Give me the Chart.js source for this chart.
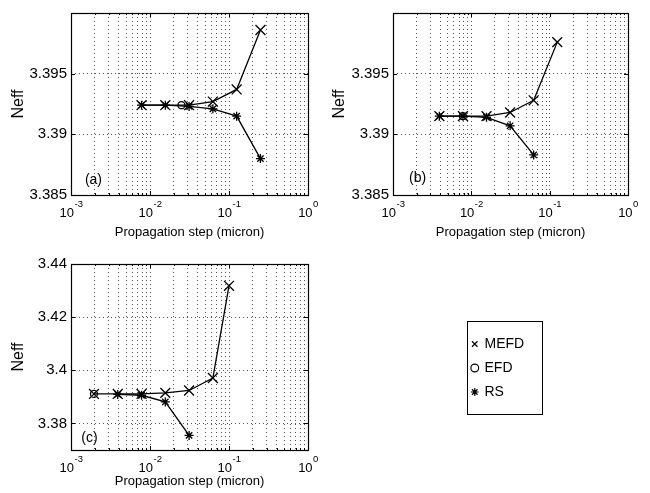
<!DOCTYPE html>
<html><head><meta charset="utf-8">
<script src="https://cdn.jsdelivr.net/npm/chart.js@4/dist/chart.umd.min.js"></script>
<style>
html,body{margin:0;padding:0;background:#fff;}
#wrap{position:relative;width:650px;height:493px;overflow:hidden;background:#fff;}
#wrap canvas{position:absolute;}
#legbox{position:absolute;left:467px;top:321px;width:76px;height:94px;border:1px solid #000;box-sizing:border-box;overflow:hidden;background:#fff;}
</style></head><body>
<div id="wrap">
<canvas id="ca" width="325" height="245" style="left:0;top:0"></canvas>
<canvas id="cb" width="325" height="245" style="left:325px;top:0"></canvas>
<canvas id="cc" width="325" height="248" style="left:0;top:245px"></canvas>
<div id="legbox"><canvas id="cl" width="82" height="92" style="left:-6px;top:0"></canvas></div>
</div>
<script>
// ---- data ----
const seriesNames = ['MEFD', 'EFD', 'RS'];
const xTitle = 'Propagation step (micron)';
const yTitle = 'Neff';
const xMajorTicks = [0.001, 0.01, 0.1, 1];
const yTicksAB = [3.385, 3.39, 3.395];
const yTicksC = [3.38, 3.4, 3.42, 3.44];
const panelLabels = ['(a)', '(b)', '(c)'];
const panelLabelX = [0.0015, 0.0016, 0.00135];
const panelLabelY = [3.3862, 3.3864, 3.3746];

// panel (a)
const stepsA = [0.0078125, 0.015625, 0.03125, 0.0625, 0.125, 0.25];
const mefdA = [3.3924, 3.3924, 3.3924, 3.3927, 3.3937, 3.3986];
const rsA = [3.3924, 3.3924, 3.3923, 3.3921, 3.3915, 3.3880];
const efdStepsA = [0.025];
const efdA = [3.3924];

// panel (b)
const stepsB = [0.00390625, 0.0078125, 0.015625, 0.03125, 0.0625, 0.125];
const mefdB = [3.3915, 3.3915, 3.3915, 3.3918, 3.3928, 3.3976];
const rsStepsB = [0.00390625, 0.0078125, 0.015625, 0.03125, 0.0625];
const rsB = [3.3915, 3.3915, 3.3914, 3.3907, 3.3883];
const efdStepsB = [0.0078125];
const efdB = [3.3915];

// panel (c)
const mefdStepsC = [0.001953125, 0.00390625, 0.0078125, 0.015625, 0.03125, 0.0625, 0.1];
const mefdC = [3.3911, 3.3911, 3.3911, 3.3915, 3.3924, 3.3971, 3.4318];
const rsStepsC = [0.00390625, 0.0078125, 0.015625, 0.03125];
const rsC = [3.3909, 3.3906, 3.3881, 3.3755];
const efdStepsC = [0.001953125];
const efdC = [3.3911];

// ---- rendering ----
const FAM = '"Liberation Sans", Arial, Helvetica, sans-serif';
Chart.defaults.font.family = FAM;
Chart.defaults.color = '#000';
const GRID = 'rgba(0,0,0,0.65)';

const xGridValues = [];
for (let e = -3; e < 0; e++) {
  for (let m = 1; m <= 9; m++) xGridValues.push(Number((m * Math.pow(10, e)).toPrecision(6)));
}
xGridValues.push(1);

const styles = {
  MEFD: {pointStyle: 'crossRot', pointRadius: 7},
  EFD: {pointStyle: 'circle', pointRadius: 3.5},
  RS: {pointStyle: 'star', pointRadius: 4.5}
};

function pts(xs, ys) { return xs.map((x, i) => ({x: x, y: ys[i]})); }
function ds(name, xs, ys) {
  return Object.assign({
    label: name, data: pts(xs, ys), showLine: true,
    borderColor: '#000', borderWidth: 1.3, backgroundColor: 'rgba(0,0,0,0)',
    pointBorderColor: '#000', pointBackgroundColor: 'rgba(0,0,0,0)',
    pointBorderWidth: 1.3, pointHoverRadius: 0, tension: 0, fill: false
  }, styles[name]);
}

const isMajor = v => xMajorTicks.some(m => Math.abs(Math.log10(m) - Math.log10(v)) < 1e-6);

const matlabPlugin = {
  id: 'matlab',
  afterDraw(chart, args, opts) {
    const {ctx, chartArea: a, scales} = chart;
    const x = scales.x, y = scales.y;
    ctx.save();
    ctx.strokeStyle = '#000';
    ctx.lineWidth = 1;
    ctx.setLineDash([]);
    ctx.beginPath();
    x.ticks.forEach(t => {
      const px = Math.round(x.getPixelForValue(t.value)) + 0.5;
      const L = isMajor(t.value) ? 4 : 2;
      ctx.moveTo(px, a.bottom); ctx.lineTo(px, a.bottom - L);
      ctx.moveTo(px, a.top); ctx.lineTo(px, a.top + L);
    });
    y.ticks.forEach(t => {
      const py = Math.round(y.getPixelForValue(t.value)) + 0.5;
      ctx.moveTo(a.left, py); ctx.lineTo(a.left + 4, py);
      ctx.moveTo(a.right, py); ctx.lineTo(a.right - 4, py);
    });
    ctx.stroke();
    ctx.lineWidth = 1.2;
    ctx.strokeRect(Math.round(a.left) + 0.5, Math.round(a.top) + 0.5,
                   Math.round(a.right - a.left), Math.round(a.bottom - a.top));
    // x tick labels 10^n
    ctx.fillStyle = '#000';
    ctx.textAlign = 'left';
    ctx.textBaseline = 'alphabetic';
    xMajorTicks.forEach(v => {
      const px = x.getPixelForValue(v);
      const e = String(Math.round(Math.log10(v)));
      ctx.font = '13px ' + FAM;
      const w1 = ctx.measureText('10').width;
      ctx.font = '9.5px ' + FAM;
      const w2 = ctx.measureText(e).width;
      const sx = px - (w1 + w2) / 2;
      ctx.font = '13px ' + FAM;
      ctx.fillText('10', sx, a.bottom + 22);
      ctx.font = '9.5px ' + FAM;
      ctx.fillText(e, sx + w1 + 0.5, a.bottom + 12);
    });
    // panel label
    const i = opts.idx;
    ctx.font = '14px ' + FAM;
    ctx.textBaseline = 'middle';
    ctx.fillText(panelLabels[i], x.getPixelForValue(panelLabelX[i]), y.getPixelForValue(panelLabelY[i]));
    ctx.restore();
  }
};

function makeChart(id, datasets, cfg) {
  return new Chart(document.getElementById(id), {
    type: 'scatter',
    data: {datasets: datasets},
    plugins: [matlabPlugin],
    options: {
      responsive: false, animation: false, events: [],
      layout: {padding: cfg.pad},
      plugins: {legend: {display: false}, tooltip: {enabled: false}, matlab: {idx: cfg.idx}},
      scales: {
        x: {
          type: 'logarithmic', min: 0.001, max: 1,
          afterBuildTicks: s => { s.ticks = xGridValues.map(v => ({value: v})); },
          afterFit: s => { s.height = cfg.xh; },
          ticks: {display: false, autoSkip: false},
          grid: {color: GRID, lineWidth: 1, drawTicks: false},
          border: {display: false, dash: [1, 3]},
          title: {display: true, text: xTitle, color: '#000', font: {size: 13}, padding: {top: 0, bottom: cfg.xtp}}
        },
        y: {
          type: 'linear', min: cfg.ymin, max: cfg.ymax,
          afterBuildTicks: s => { s.ticks = cfg.yt.map(v => ({value: v})); },
          afterFit: s => { s.width = cfg.yw; },
          ticks: {callback: v => String(v), font: {size: 15}, padding: 4, color: '#000', autoSkip: false},
          grid: {color: GRID, lineWidth: 1, drawTicks: false},
          border: {display: false, dash: [1, 3]},
          title: {display: true, text: yTitle, color: '#000', font: {size: 16}, padding: {top: cfg.ytp, bottom: 0}}
        }
      }
    }
  });
}

makeChart('ca', [
  ds('MEFD', stepsA, mefdA), ds('EFD', efdStepsA, efdA), ds('RS', stepsA, rsA)
], {idx: 0, pad: {left: 0, top: 12, right: 17, bottom: 0}, xh: 50, xtp: 5, yw: 71, ytp: 9.4,
    ymin: 3.385, ymax: 3.4, yt: yTicksAB});

makeChart('cb', [
  ds('MEFD', stepsB, mefdB), ds('EFD', efdStepsB, efdB), ds('RS', rsStepsB, rsB)
], {idx: 1, pad: {left: 0, top: 13, right: 22, bottom: 0}, xh: 50, xtp: 5, yw: 68, ytp: 5.4,
    ymin: 3.385, ymax: 3.4, yt: yTicksAB});

makeChart('cc', [
  ds('MEFD', mefdStepsC, mefdC), ds('EFD', efdStepsC, efdC), ds('RS', rsStepsC, rsC)
], {idx: 2, pad: {left: 0, top: 19, right: 17, bottom: 0}, xh: 43, xtp: 3.6, yw: 71, ytp: 9.4,
    ymin: 3.37, ymax: 3.44, yt: yTicksC});

// legend
new Chart(document.getElementById('cl'), {
  type: 'scatter',
  data: {datasets: seriesNames.map(n => Object.assign({
    label: n, data: [], borderColor: '#000', borderWidth: 1.2, backgroundColor: 'rgba(0,0,0,0)',
    pointBorderColor: '#000', pointBackgroundColor: 'rgba(0,0,0,0)', pointBorderWidth: 1.2
  }, styles[n]))},
  options: {
    responsive: false, animation: false, events: [],
    layout: {padding: 0},
    scales: {x: {display: false}, y: {display: false}},
    plugins: {
      tooltip: {enabled: false},
      legend: {display: true, position: 'left', align: 'center', maxWidth: 82,
        labels: {usePointStyle: true, boxWidth: 5.5, boxHeight: 5.5, padding: 10, color: '#000', font: {size: 14}}}
    }
  }
});
</script>
</body></html>
